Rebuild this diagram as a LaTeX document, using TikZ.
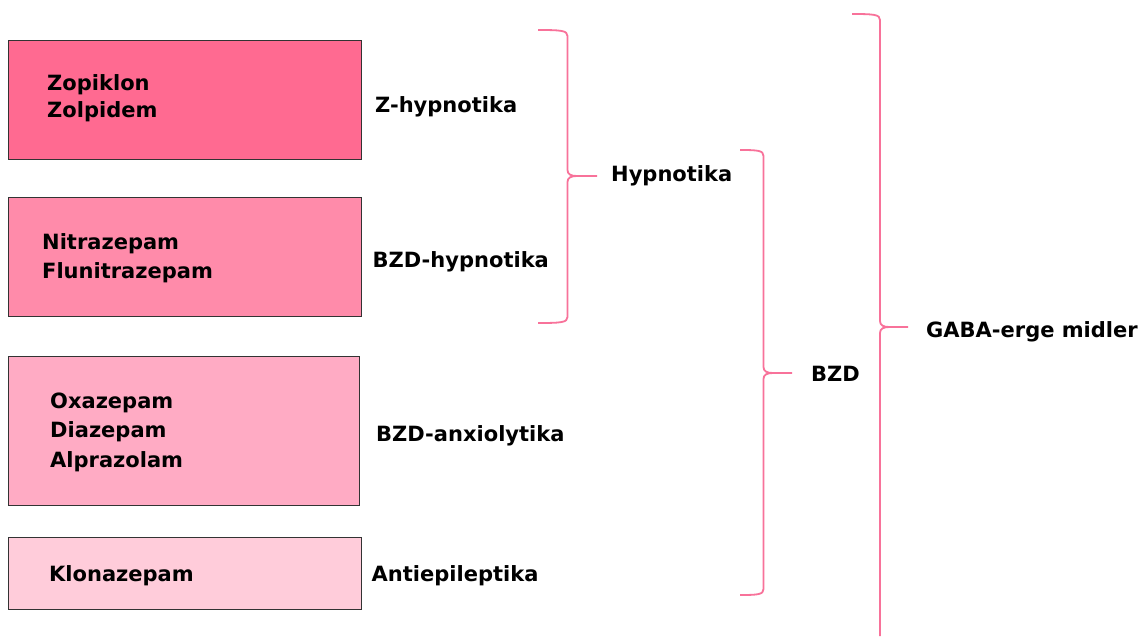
\documentclass[tikz,border=0pt]{standalone}
\usepackage{fontspec}
\setmainfont{DejaVu Sans}
\begin{document}
\begin{tikzpicture}[x=1pt,y=-1pt,
  drugbox/.style={draw=black!80,line width=1.1pt,anchor=north west,inner sep=0pt},
  lbl/.style={anchor=base west,inner sep=0pt,font=\fontsize{21}{25}\selectfont\bfseries},
  bracestyle/.style={draw=bracepink,line width=1.8pt}]
\definecolor{boxa}{HTML}{FF6A91}
\definecolor{boxb}{HTML}{FF8BAA}
\definecolor{boxc}{HTML}{FFABC4}
\definecolor{boxd}{HTML}{FFCCDA}
\definecolor{bracepink}{HTML}{F8729A}
\useasboundingbox (0,0) rectangle (1146,637);
\fill[white] (0,0) rectangle (1146,637);
% boxes
\node[drugbox,fill=boxa,minimum width=353pt,minimum height=119pt] (b1) at (7.5,40) {};
\node[drugbox,fill=boxb,minimum width=353pt,minimum height=119pt] (b2) at (7.5,197) {};
\node[drugbox,fill=boxc,minimum width=351pt,minimum height=149pt] (b3) at (7.5,356) {};
\node[drugbox,fill=boxd,minimum width=353pt,minimum height=72pt] (b4) at (7.5,537) {};
% box texts
\node[lbl] (t1a) at (47,90) {Zopiklon};
\node[lbl] (t1b) at (47,117.5) {Zolpidem};
\node[lbl] (t2a) at (42,249) {Nitrazepam};
\node[lbl] (t2b) at (42,278) {Flunitrazepam};
\node[lbl] (t3a) at (50,408) {Oxazepam};
\node[lbl] (t3b) at (50,437.5) {Diazepam};
\node[lbl] (t3c) at (50,467) {Alprazolam};
\node[lbl] (t4a) at (49,581) {Klonazepam};
% category labels
\node[lbl] (l1) at (375,112.7) {Z-hypnotika};
\node[lbl] (l2) at (372.5,267.7) {BZD-hypnotika};
\node[lbl] (l3) at (376,441.7) {BZD-anxiolytika};
\node[lbl] (l4) at (371.5,581.7) {Antiepileptika};
\node[lbl] (l5) at (611,181.7) {Hypnotika};
\node[lbl] (l6) at (811,381.7) {BZD};
\node[lbl] (l7) at (926,337.3) {GABA-erge midler};
% braces
\coordinate (h1t) at (538,30);
\coordinate (h1m) at (597,176);
\coordinate (h1b) at (538,323);
\draw[bracestyle] (h1t) .. controls (561,30) and (567.5,30.5) .. (567.5,36)
  -- (567.5,170) .. controls (567.5,174.5) and (571,176) .. (577,176) -- (h1m);
\draw[bracestyle] (577,176) .. controls (571,176) and (567.5,177.5) .. (567.5,182)
  -- (567.5,317) .. controls (567.5,322.5) and (561,323) .. (h1b);
\coordinate (h2t) at (740,150);
\coordinate (h2m) at (792,373);
\coordinate (h2b) at (740,595);
\draw[bracestyle] (h2t) .. controls (758,150) and (763.5,150.5) .. (763.5,156)
  -- (763.5,367) .. controls (763.5,371.5) and (767,373) .. (773,373) -- (h2m);
\draw[bracestyle] (773,373) .. controls (767,373) and (763.5,374.5) .. (763.5,379)
  -- (763.5,589) .. controls (763.5,594.5) and (758,595) .. (h2b);
\coordinate (h3t) at (852,14);
\coordinate (h3m) at (908,327);
\coordinate (h3b) at (880,636);
\draw[bracestyle] (h3t) .. controls (874,14) and (880,14.5) .. (880,20)
  -- (880,321) .. controls (880,325.5) and (883.5,327) .. (889.5,327) -- (h3m);
\draw[bracestyle] (889.5,327) .. controls (883.5,327) and (880,328.5) .. (880,333)
  -- (h3b);
\end{tikzpicture}
\end{document}
